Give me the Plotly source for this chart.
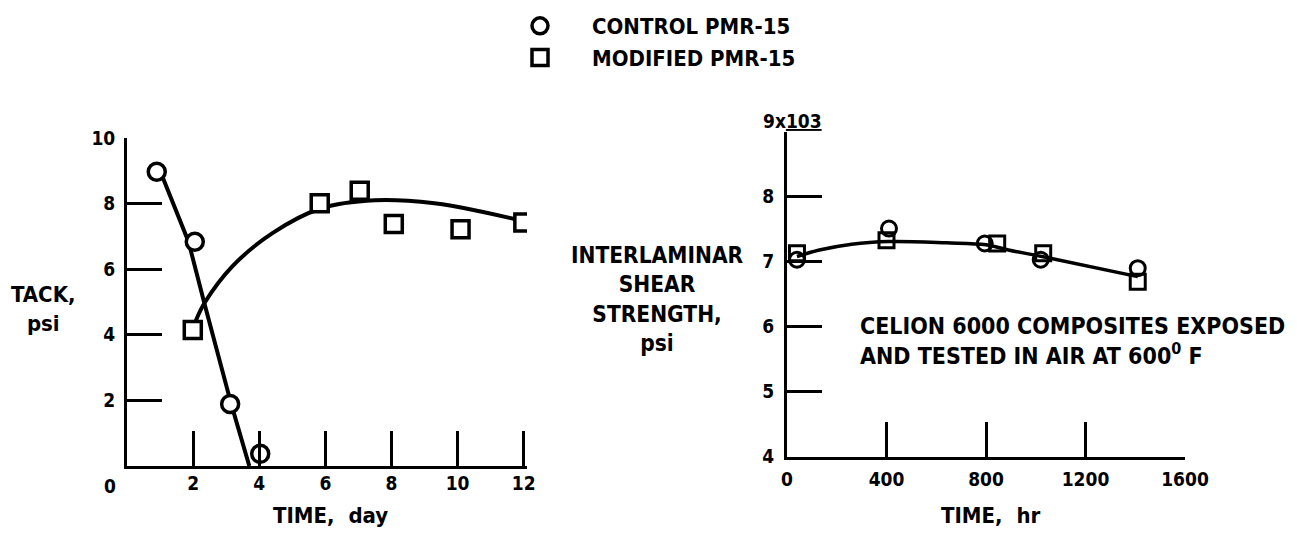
import plotly.graph_objects as go

# ---- Left panel: tack vs time (days) ----
ctrl_day = [0.9, 2.05, 3.12, 4.03]
ctrl_tack = [8.97, 6.84, 1.89, 0.37]
ctrl_fit_day = [1.0, 1.86, 2.34, 3.15, 3.7]
ctrl_fit_tack = [9.0, 6.84, 4.96, 1.9, 0.0]

mod_day = [1.99, 5.83, 7.04, 8.07, 10.09, 11.99]
mod_tack = [4.15, 8.01, 8.39, 7.38, 7.22, 7.42]
mod_fit_day = [2.07, 2.34, 3.2, 4.4, 5.86, 7.5, 9.3, 10.7, 12.0]
mod_fit_tack = [4.4, 4.96, 6.1, 7.1, 7.85, 8.1, 8.01, 7.76, 7.46]

left_xticks = [2, 4, 6, 8, 10, 12]
left_yticks = [2, 4, 6, 8, 10]

# ---- Right panel: interlaminar shear strength (x10^3 psi) vs time (hr) ----
ctrl_hr = [40, 410, 795, 1020, 1410]
ctrl_ilss = [7.03, 7.51, 7.28, 7.03, 6.9]
mod_hr = [40, 400, 845, 1030, 1410]
mod_ilss = [7.13, 7.33, 7.28, 7.13, 6.69]
fit_hr = [40, 130, 260, 410, 640, 800, 890, 1025, 1410]
fit_ilss = [7.08, 7.18, 7.27, 7.31, 7.29, 7.26, 7.18, 7.08, 6.77]

right_xticks = [0, 400, 800, 1200, 1600]
right_yticks = [4, 5, 6, 7, 8]

FONT = "DejaVu Sans Condensed, DejaVu Sans, sans-serif"
# page body has an 8px margin; figure sized to fit inside the 1304x537 window
OFF = 8
W, H = 1304 - 2 * OFF, 537 - 2 * OFF
def px(x):
    return (x - OFF) / W
def py(y):
    return 1 - (y - OFF) / H

def f(size):
    return dict(family=FONT, size=size, color="black", weight="bold")

fig = go.Figure()

# left fits (under markers)
fig.add_trace(go.Scatter(x=ctrl_fit_day, y=ctrl_fit_tack, mode="lines",
                         line=dict(color="black", width=4), showlegend=False,
                         xaxis="x", yaxis="y", hoverinfo="skip"))
fig.add_trace(go.Scatter(x=mod_fit_day, y=mod_fit_tack, mode="lines",
                         line=dict(color="black", width=4, shape="spline"), showlegend=False,
                         xaxis="x", yaxis="y", hoverinfo="skip"))
# left markers
fig.add_trace(go.Scatter(x=ctrl_day, y=ctrl_tack, mode="markers", name="CONTROL PMR-15",
                         legendgroup="c",
                         marker=dict(symbol="circle", size=17, color="white",
                                     line=dict(color="black", width=3.5)),
                         xaxis="x", yaxis="y"))
fig.add_trace(go.Scatter(x=mod_day, y=mod_tack, mode="markers", name="MODIFIED PMR-15",
                         legendgroup="m",
                         marker=dict(symbol="square", size=17, color="white",
                                     line=dict(color="black", width=3.5)),
                         xaxis="x", yaxis="y"))

# right panel
fig.add_trace(go.Scatter(x=fit_hr, y=fit_ilss, mode="lines",
                         line=dict(color="black", width=3.5, shape="spline"), showlegend=False,
                         xaxis="x2", yaxis="y2", hoverinfo="skip"))
fig.add_trace(go.Scatter(x=ctrl_hr, y=ctrl_ilss, mode="markers", name="CONTROL PMR-15",
                         legendgroup="c", showlegend=False,
                         marker=dict(symbol="circle-open", size=15, color="black",
                                     line=dict(color="black", width=3)),
                         xaxis="x2", yaxis="y2"))
fig.add_trace(go.Scatter(x=mod_hr, y=mod_ilss, mode="markers", name="MODIFIED PMR-15",
                         legendgroup="m", showlegend=False,
                         marker=dict(symbol="square-open", size=15, color="black",
                                     line=dict(color="black", width=3)),
                         xaxis="x2", yaxis="y2"))

axis_common = dict(showline=True, linecolor="black", linewidth=3, ticks="inside",
                   ticklen=35, tickwidth=2.5, tickcolor="black", showgrid=False,
                   zeroline=False, tickfont=f(19), fixedrange=True)

fig.update_layout(
    width=W, height=H,
    margin=dict(l=0, r=0, t=0, b=0, autoexpand=False),
    paper_bgcolor="white", plot_bgcolor="white",
    font=dict(family=FONT, color="black"),
    xaxis=dict(domain=[px(127), px(527)], range=[0, 12.1], tickvals=left_xticks,
               anchor="y", ticklabelstandoff=-2, **axis_common),
    yaxis=dict(domain=[py(466), py(138)], range=[0, 10], tickvals=left_yticks,
               anchor="x", ticklabelstandoff=5, **axis_common),
    xaxis2=dict(domain=[px(787), px(1185)], range=[0, 1600], tickvals=right_xticks,
                anchor="y2", ticklabelstandoff=3, **axis_common),
    yaxis2=dict(domain=[py(456.7), py(131.7)], range=[4, 9], tickvals=right_yticks,
                anchor="x2", ticklabelstandoff=6, **axis_common),
    legend=dict(x=px(488), y=py(5), xanchor="left", yanchor="top",
                font=f(22), bgcolor="rgba(0,0,0,0)", itemwidth=94, tracegroupgap=0),
    showlegend=True,
)

annotations = [
    dict(text="0", x=px(110), y=py(486), font=f(19)),
    dict(text="TACK,<br>psi", x=px(43), y=py(309), font=f(22)),
    dict(text="TIME,  day", x=px(330), y=py(515), font=f(22)),
    dict(text="INTERLAMINAR<br>SHEAR<br>STRENGTH,<br>psi", x=px(657), y=py(299), font=f(22.5)),
    dict(text="9x<u>103</u>", x=px(792), y=py(121), font=f(19)),
    dict(text="TIME,  hr", x=px(990), y=py(515), font=f(22)),
]
for a in annotations:
    fig.add_annotation(xref="paper", yref="paper", showarrow=False,
                       xanchor="center", yanchor="middle", **a)
fig.add_annotation(xref="paper", yref="paper", showarrow=False,
                   x=px(858), y=py(341), xanchor="left", yanchor="middle", align="left",
                   text="CELION 6000 COMPOSITES EXPOSED<br>AND TESTED IN AIR AT 600<sup>0</sup> F",
                   font=f(23))

fig.write_html("out.html")
